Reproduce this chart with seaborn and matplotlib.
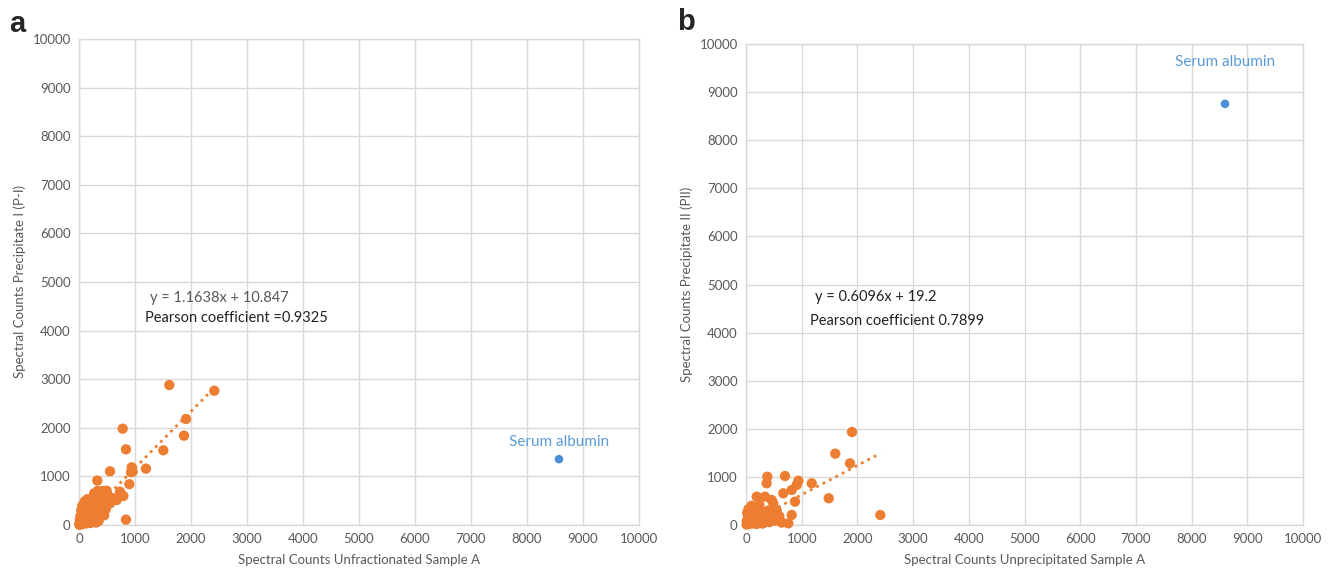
import numpy as np
import pandas as pd
import matplotlib
matplotlib.use("Agg")
import matplotlib.pyplot as plt
import seaborn as sns

# panel a: unfractionated vs precipitate I
a_x = [1613, 2416, 1911, 1875, 780, 839, 1506, 1196, 941, 929, 959, 554, 899, 327, 839,
       494, 732, 762, 792, 613, 375, 137, 554, 434, 673, 255, 494,
       10, 20, 30, 40, 50, 60, 70, 80, 90, 100, 110, 120, 130, 140, 150, 160, 170, 180,
       190, 200, 210, 220, 230, 250, 260, 280, 300, 320, 340, 360, 380, 400, 420, 450,
       480, 520, 300, 200, 350, 60, 100, 150, 40, 25, 15, 5, 120, 270, 330, 420]
a_y = [2880, 2763, 2181, 1838, 1982, 1557, 1537, 1159, 1187, 1084, 1097, 1105, 840, 915, 110,
       706, 686, 617, 597, 549, 583, 514, 446, 309, 514, 171, 652,
       20, 60, 10, 120, 30, 200, 80, 150, 40, 250, 120, 300, 60, 200, 380, 100, 260, 450,
       160, 320, 90, 500, 230, 400, 140, 520, 300, 180, 450, 620, 260, 380, 550, 200,
       330, 600, 50, 40, 80, 400, 480, 530, 300, 180, 100, 5, 30, 650, 700, 700]
a_slope, a_intercept = 1.1638, 10.847

# panel b: unprecipitated vs precipitate II
b_x = [1903, 1603, 1867, 2411, 1485, 1180, 940, 910, 700, 383, 371, 820, 670, 880, 820,
       760, 192, 341, 461, 490, 102, 551, 490,
       10, 20, 30, 40, 50, 60, 70, 80, 90, 100, 110, 120, 130, 140, 150, 160, 170, 180,
       190, 200, 210, 230, 250, 260, 280, 300, 320, 350, 380, 400, 420, 450, 480, 520,
       550, 600, 640, 100, 60, 20, 240, 300, 15, 45]
b_y = [1933, 1483, 1282, 208, 555, 867, 921, 832, 1019, 1004, 867, 728, 659, 485, 208,
       35, 589, 589, 520, 451, 380, 243, 173,
       10, 50, 120, 20, 200, 80, 300, 150, 30, 250, 100, 180, 40, 320, 220, 70, 140, 280,
       20, 360, 110, 200, 60, 300, 150, 250, 80, 180, 120, 300, 60, 220, 150, 90,
       300, 180, 50, 400, 150, 250, 420, 30, 80, 330]
b_slope, b_intercept = 0.6096, 19.2

albumin_a = (8571, 1355)
albumin_b = (8600, 8755)

ticks = list(range(0, 10001, 1000))
orange = "#ED7D31"
blue = "#4A8FD8"
grey = "#595959"

sns.set_theme(style="whitegrid", rc={"grid.color": "#D9D9D9", "grid.linewidth": 1.0})
plt.rcParams["font.family"] = ["Lato", "DejaVu Sans"]

fig = plt.figure(figsize=(13.36, 5.75), dpi=100)
ax_a = fig.add_axes([79 / 1336, 50 / 575, 560 / 1336, 486 / 575])
ax_b = fig.add_axes([746 / 1336, 50 / 575, 557 / 1336, 481 / 575])


def draw_panel(ax, xs, ys, slope, intercept, albumin, albumin_text_y, xlabel, ylabel, lines, text_xy):
    df = pd.DataFrame({"x": xs, "y": ys})
    sns.scatterplot(data=df, x="x", y="y", ax=ax, color=orange, s=55, edgecolor="none",
                    zorder=3, clip_on=False)
    fx = np.array([0, max(xs)])
    sns.lineplot(x=fx, y=slope * fx + intercept, ax=ax, color=orange, linestyle=(0, (1, 1.6)),
                 linewidth=2, zorder=2)
    sns.scatterplot(x=[albumin[0]], y=[albumin[1]], ax=ax, color=blue, s=38, edgecolor="none", zorder=3)
    ax.text(albumin[0], albumin_text_y, "Serum albumin", color="#5B9BD5", fontsize=11, ha="center", va="center")
    ax.set_xlim(0, 10000)
    ax.set_ylim(0, 10000)
    ax.set_xticks(ticks)
    ax.set_yticks(ticks)
    ax.tick_params(axis="both", labelsize=9.5, colors=grey, length=0, pad=6)
    ax.set_xlabel(xlabel, fontsize=9.5, color=grey, labelpad=6)
    ax.set_ylabel(ylabel, fontsize=9.5, color=grey, labelpad=4.5)
    for s in ax.spines.values():
        s.set_visible(True)
        s.set_color("#D9D9D9")
        s.set_linewidth(1.0)
    (tx1, ty1, c1), (tx2, ty2, c2) = text_xy
    ax.text(tx1, ty1, lines[0], color=c1, fontsize=10.5, va="center")
    ax.text(tx2, ty2, lines[1], color=c2, fontsize=10.5, va="center")


draw_panel(ax_a, a_x, a_y, a_slope, a_intercept, albumin_a, 1710,
           "Spectral Counts Unfractionated Sample A", "Spectral Counts Precipitate I (P-I)",
           ["y = 1.1638x + 10.847", "Pearson coefficient =0.9325"],
           [(1268, 4670, grey), (1179, 4260, "#222222")])
draw_panel(ax_b, b_x, b_y, b_slope, b_intercept, albumin_b, 9625,
           "Spectral Counts Unprecipitated Sample A", "Spectral Counts Precipitate II (PII)",
           ["y = 0.6096x + 19.2", "Pearson coefficient 0.7899"],
           [(1239, 4740, "#222222"), (1149, 4240, "#222222")])

fig.text(17 / 1336, 1 - 24 / 575, "a", fontsize=21, fontweight="bold", ha="center", va="center",
         family="Liberation Sans")
fig.text(686 / 1336, 1 - 22 / 575, "b", fontsize=21, fontweight="bold", ha="center", va="center",
         family="Liberation Sans")

fig.savefig("out.png", dpi=100, facecolor="white")
